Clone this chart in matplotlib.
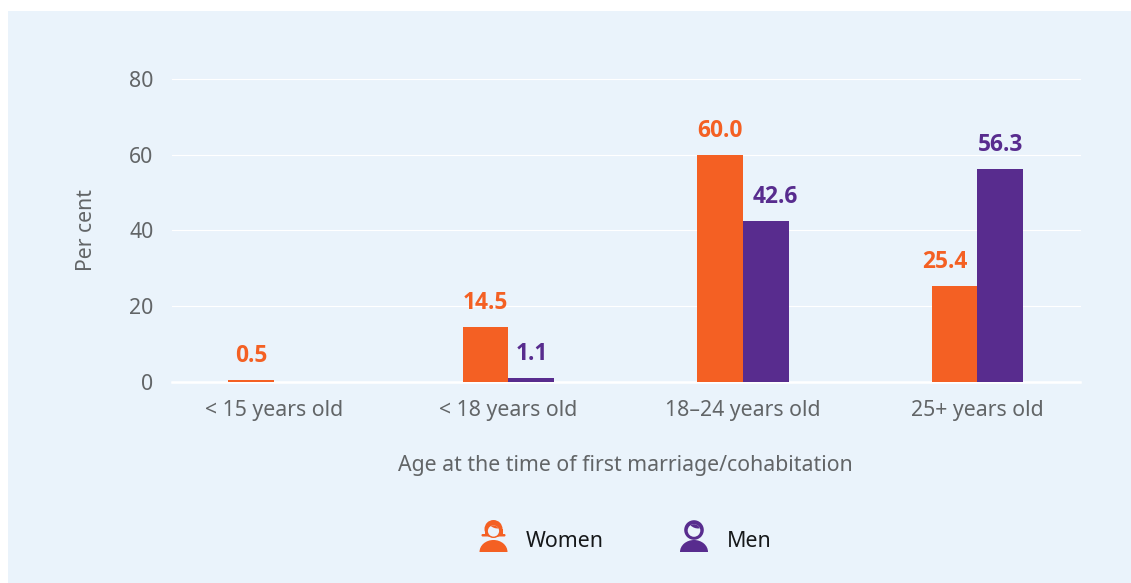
import matplotlib
matplotlib.use("Agg")
import matplotlib.pyplot as plt
import numpy as np
from matplotlib.patches import Circle, Ellipse, Rectangle, FancyBboxPatch

categories = ["< 15 years old", "< 18 years old", "18–24 years old", "25+ years old"]
women = [0.5, 14.5, 60.0, 25.4]
men = [None, 1.1, 42.6, 56.3]
y_ticks = [0, 20, 40, 60, 80]

ORANGE = "#F46023"
PURPLE = "#582C8E"
PANEL = "#EAF3FB"
GREY = "#626567"
W, H = 1131, 583

plt.rcParams["font.family"] = ["Noto Sans", "DejaVu Sans"]

fig = plt.figure(figsize=(W / 100, H / 100), dpi=100, facecolor="white")

# overlay in pixel coords for the panel and the legend icons
bg = fig.add_axes([0, 0, 1, 1], zorder=0)
bg.set_xlim(0, W)
bg.set_ylim(H, 0)
bg.axis("off")
bg.add_patch(Rectangle((8, 11), 1123, 572, fc=PANEL, ec="none"))

ax = fig.add_axes([171.5 / W, 1 - 381.8 / H, 908 / W, 302.8 / H], zorder=1)
ax.patch.set_alpha(0)
for s in ax.spines.values():
    s.set_visible(False)

x = np.arange(len(categories))
bw = 0.196
ax.set_xlim(-0.437, 3.435)
ax.set_ylim(0, 80)
ax.set_yticks(y_ticks)
ax.set_xticks(x)
ax.set_xticklabels(categories)
ax.tick_params(length=0, labelsize=15.3, labelcolor=GREY)
ax.tick_params(axis="x", pad=13)
ax.tick_params(axis="y", pad=13)
ax.grid(axis="y", color="white", lw=0.8, clip_on=False)
ax.set_axisbelow(True)
ax.axhline(0, color="white", lw=1.8, zorder=1, clip_on=False)

label_font = ["Open Sans", "DejaVu Sans"]
for i in x:
    # wide labels next to a taller bar get pushed away from it
    shift_w = -0.042 if men[i] is not None and men[i] > women[i] else 0
    shift_m = 0.04 if men[i] is not None and 20 < men[i] < women[i] else 0
    ax.bar(i - bw / 2, women[i], bw, color=ORANGE, zorder=3)
    ax.text(i - bw / 2 + shift_w, women[i] + 4.7, "%.1f" % women[i], color=ORANGE, fontsize=16.4,
            family=label_font, fontweight="bold", ha="center", va="baseline")
    if men[i] is not None:
        ax.bar(i + bw / 2, men[i], bw, color=PURPLE, zorder=3)
        ax.text(i + bw / 2 + shift_m, men[i] + 4.7, "%.1f" % men[i], color=PURPLE, fontsize=16.4,
                family=label_font, fontweight="bold", ha="center", va="baseline")

fig.text(86 / W, 1 - 230 / H, "Per cent", rotation=90, fontsize=15.3, color=GREY,
         ha="center", va="center")
fig.text(625 / W, 1 - 465 / H, "Age at the time of first marriage/cohabitation", fontsize=15.35,
         color=GREY, ha="center", va="center")


def person(cx, color, woman):
    # shoulders, flat at the bottom
    bg.add_patch(Ellipse((cx, 552), 28, 24, fc=color, ec="none", zorder=2))
    bg.add_patch(Rectangle((cx - 16, 552), 32, 14, fc=PANEL, ec="none", zorder=2.5))
    # head
    if woman:
        bg.add_patch(Circle((cx, 529), 9, fc=color, ec="none", zorder=3))
        bg.add_patch(Rectangle((cx - 9, 529), 18, 6, fc=color, ec="none", zorder=3))
        bg.add_patch(FancyBboxPatch((cx - 12, 534), 24, 2.5, boxstyle="round,pad=0,rounding_size=1.2",
                                    fc=color, ec="none", zorder=3))
        face = Circle((cx, 531), 5.6, fc=PANEL, ec="none", zorder=4)
    else:
        bg.add_patch(Circle((cx, 530), 9.8, fc=color, ec="none", zorder=3))
        face = Circle((cx, 530.5), 6.3, fc=PANEL, ec="none", zorder=4)
    bg.add_patch(face)
    # fringe, clipped to the face
    fringe = Ellipse((cx + 1.5, 525), 12, 6, angle=20, fc=color, ec="none", zorder=5)
    bg.add_patch(fringe)
    fringe.set_clip_path(face)


person(493.5, ORANGE, True)
person(694, PURPLE, False)
fig.text(526 / W, 1 - 541.5 / H, "Women", fontsize=15.4, color="#16181A", ha="left", va="center")
fig.text(727 / W, 1 - 541.5 / H, "Men", fontsize=15.4, color="#16181A", ha="left", va="center")

fig.savefig("out.png", dpi=100, facecolor="white")
